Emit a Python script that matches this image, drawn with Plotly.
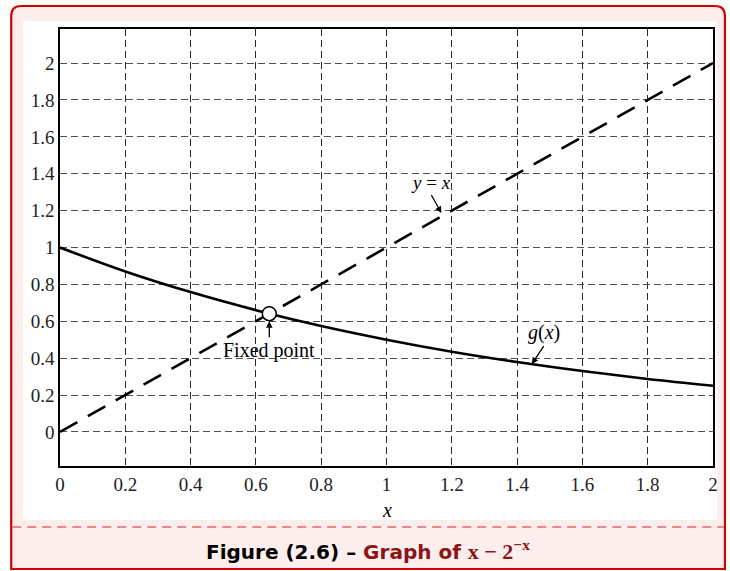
import plotly.graph_objects as go

# data
g_x = [0.0, 0.2, 0.4, 0.6, 0.8, 1.0, 1.2, 1.4, 1.6, 1.8, 2.0]
g_y = [1.0, 0.87, 0.758, 0.66, 0.574, 0.5, 0.435, 0.379, 0.33, 0.287, 0.25]
line_x = [0.0, 2.0]
line_y = [0.0, 2.0]
fixed_x = [0.641]
fixed_y = [0.641]
x_ticks = [0, 0.2, 0.4, 0.6, 0.8, 1, 1.2, 1.4, 1.6, 1.8, 2]
x_ticktext = ["0", "0.2", "0.4", "0.6", "0.8", "1", "1.2", "1.4", "1.6", "1.8", "2"]
y_ticks = [0, 0.2, 0.4, 0.6, 0.8, 1, 1.2, 1.4, 1.6, 1.8, 2]
y_ticktext = ["0", "0.2", "0.4", "0.6", "0.8", "1", "1.2", "1.4", "1.6", "1.8", "2"]

W, H = 730, 571
L, R, T, B = 60, 716, 29, 466


def px(xp):
    return (xp - L) / (R - L)


def py(yp):
    return (B - yp) / (B - T)


fig = go.Figure()
fig.add_trace(go.Scatter(x=line_x, y=line_y, mode="lines",
                         line=dict(color="black", width=2.6, dash="20px,12px"),
                         showlegend=False, hoverinfo="skip"))
fig.add_trace(go.Scatter(x=g_x, y=g_y, mode="lines",
                         line=dict(color="black", width=2.6, shape="spline"),
                         showlegend=False, hoverinfo="skip"))
fig.add_trace(go.Scatter(x=fixed_x, y=fixed_y, mode="markers",
                         marker=dict(size=14, color="white", line=dict(color="black", width=1.5)),
                         showlegend=False, hoverinfo="skip"))

serif = "Liberation Serif"
axis_common = dict(showline=True, mirror=True, linecolor="black", linewidth=1.6,
                   showgrid=True, gridwidth=1.3, griddash="7px,4px",
                   zeroline=False, ticks="", tickfont=dict(family=serif, size=19, color="#222"))
fig.update_xaxes(range=[0, 2], tickvals=x_ticks, ticktext=x_ticktext, gridcolor="#2a2a2a", **axis_common)
fig.update_yaxes(range=[-0.185, 2.185], tickvals=y_ticks, ticktext=y_ticktext, gridcolor="#505050", **axis_common)

shapes = [
    # outer rounded box
    dict(type="path", xref="paper", yref="paper", layer="below",
         path=(f"M {px(21)} {py(6)} L {px(718)} {py(6)} "
               f"Q {px(728)} {py(6)} {px(728)} {py(16)} "
               f"L {px(728)} {py(569)} L {px(11)} {py(569)} L {px(11)} {py(16)} "
               f"Q {px(11)} {py(6)} {px(21)} {py(6)} Z"),
         fillcolor="#fdeeee", line=dict(color="#d40000", width=2.2)),
    # inner white panel
    dict(type="rect", xref="paper", yref="paper", layer="below",
         x0=px(23), x1=px(720), y0=py(520), y1=py(21),
         fillcolor="white", line=dict(width=0)),
    # caption separator
    dict(type="line", xref="paper", yref="paper",
         x0=px(12), x1=px(727), y0=py(527), y1=py(527),
         line=dict(color="#e06a6a", width=1.4, dash="9px,6px")),
]

annotations = [
    dict(x=1.168, y=1.187, xref="x", yref="y", text="<i>y</i> = <i>x</i>",
         showarrow=True, arrowhead=2, arrowsize=1, arrowwidth=1.3, arrowcolor="black",
         ax=-10, ay=-18, font=dict(family=serif, size=19, color="black"), yanchor="bottom"),
    dict(x=1.445, y=0.368, xref="x", yref="y", text="<i>g</i>(<i>x</i>)",
         showarrow=True, arrowhead=2, arrowsize=1, arrowwidth=1.3, arrowcolor="black",
         ax=12, ay=-18, font=dict(family=serif, size=20, color="black"), yanchor="bottom"),
    dict(x=0.641, y=0.6, xref="x", yref="y", text="Fixed point",
         showarrow=True, arrowhead=2, arrowsize=1, arrowwidth=1.3, arrowcolor="black",
         ax=0, ay=16, font=dict(family=serif, size=20, color="black"), yanchor="top"),
    dict(x=1.0, y=py(510), xref="x", yref="paper", text="<i>x</i>", showarrow=False,
         yanchor="middle", font=dict(family=serif, size=20, color="black")),
    dict(x=px(369), y=py(550), xref="paper", yref="paper", showarrow=False, yanchor="middle",
         text=("<b>Figure (2.6) – </b><span style='color:#8b1414'><b>Graph of </b>"
               "<b style='font-family:Liberation Serif;font-size:22px'>x − 2<sup>−x</sup></b></span>"),
         font=dict(family="DejaVu Sans", size=20, color="black")),
]

fig.update_layout(width=W, height=H, margin=dict(l=L, r=W - R, t=T, b=H - B),
                  paper_bgcolor="white", plot_bgcolor="white",
                  shapes=shapes, annotations=annotations)

fig.write_html("out.html", config={"displayModeBar": False},
               post_script="document.body.style.margin='0';")
